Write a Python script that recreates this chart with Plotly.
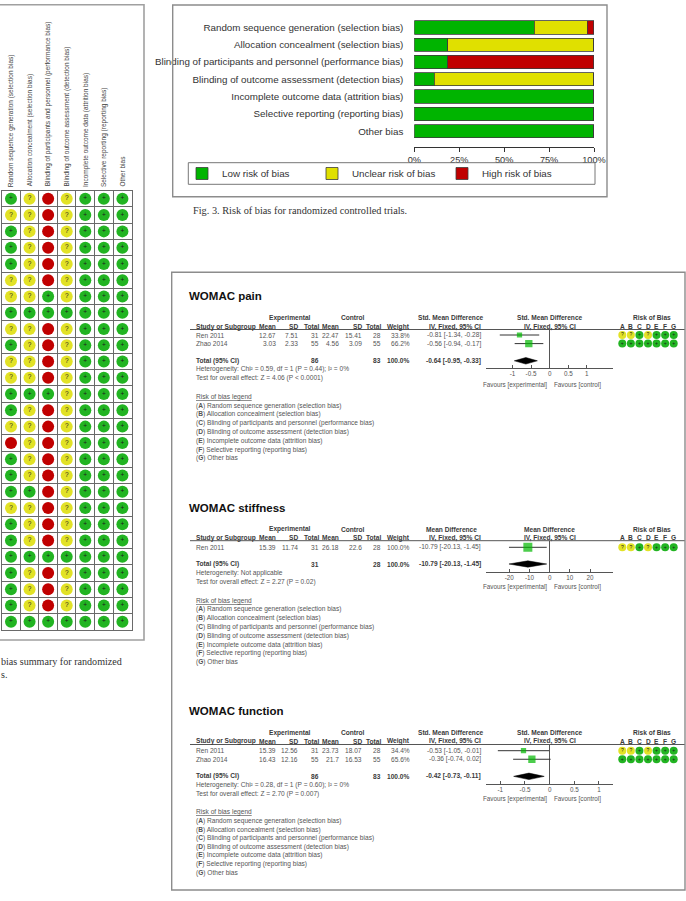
import plotly.graph_objects as go

W, H = 686, 901
SANS = "Liberation Sans, Arial, sans-serif"
SERIF = "Liberation Serif, DejaVu Serif, serif"

# ---------------- data ----------------
domains = [
    "Random sequence generation (selection bias)",
    "Allocation concealment (selection bias)",
    "Blinding of participants and personnel (performance bias)",
    "Blinding of outcome assessment (detection bias)",
    "Incomplete outcome data (attrition bias)",
    "Selective reporting (reporting bias)",
    "Other bias",
]
rob_letters = ["A", "B", "C", "D", "E", "F", "G"]
risk_levels = ["L", "U", "H"]
risk_names = ["Low risk of bias", "Unclear risk of bias", "High risk of bias"]

# one string per trial (top to bottom), one letter per domain: L low, U unclear, H high
summary_judgements = [
    "LUHULLL", "UUHULLL", "LUHULLL", "LUHULLL", "LUHULLL", "UUHULLL", "UULULLL",
    "LLLLLLL", "UUHULLL", "LUHULLL", "UUHULLL", "UUHULLL", "LLLULLL", "LUHULLL",
    "UUHULLL", "HUHULLL", "LUHULLL", "LUHULLL", "LLHULLL", "UUHULLL", "LUHULLL",
    "LUHULLL", "LLLLLLL", "LUHULLL", "LUHULLL", "LUHULLL", "LLLLLLL",
]

# WOMAC pain
pain_study = ["Ren 2011", "Zhao 2014"]
pain_exp_mean = [12.67, 3.03]
pain_exp_sd = [7.51, 2.33]
pain_exp_n = [31, 55]
pain_ctl_mean = [22.47, 4.56]
pain_ctl_sd = [15.41, 3.09]
pain_ctl_n = [28, 55]
pain_weight = [33.8, 66.2]
pain_est = [-0.81, -0.56]
pain_lo = [-1.34, -0.94]
pain_hi = [-0.28, -0.17]
pain_total = [-0.64, -0.95, -0.33]
pain_rob = ["UULULLL", "LLLLLLL"]
pain_het = "Heterogeneity: Chi² = 0.59, df = 1 (P = 0.44); I² = 0%"
pain_test = "Test for overall effect: Z = 4.06 (P < 0.0001)"
pain_ticks = [-1, -0.5, 0, 0.5, 1]

# WOMAC stiffness
stiff_study = ["Ren 2011"]
stiff_exp_mean = [15.39]
stiff_exp_sd = [11.74]
stiff_exp_n = [31]
stiff_ctl_mean = [26.18]
stiff_ctl_sd = [22.6]
stiff_ctl_n = [28]
stiff_weight = [100.0]
stiff_est = [-10.79]
stiff_lo = [-20.13]
stiff_hi = [-1.45]
stiff_total = [-10.79, -20.13, -1.45]
stiff_rob = ["UULULLL"]
stiff_het = "Heterogeneity: Not applicable"
stiff_test = "Test for overall effect: Z = 2.27 (P = 0.02)"
stiff_ticks = [-20, -10, 0, 10, 20]

# WOMAC function
func_study = ["Ren 2011", "Zhao 2014"]
func_exp_mean = [15.39, 16.43]
func_exp_sd = [12.56, 12.16]
func_exp_n = [31, 55]
func_ctl_mean = [23.73, 21.7]
func_ctl_sd = [18.07, 16.53]
func_ctl_n = [28, 55]
func_weight = [34.4, 65.6]
func_est = [-0.53, -0.36]
func_lo = [-1.05, -0.74]
func_hi = [-0.01, 0.02]
func_total = [-0.42, -0.73, -0.11]
func_rob = ["UULULLL", "LLLLLLL"]
func_het = "Heterogeneity: Chi² = 0.28, df = 1 (P = 0.60); I² = 0%"
func_test = "Test for overall effect: Z = 2.70 (P = 0.007)"
func_ticks = [-1, -0.5, 0, 0.5, 1]


# ---------------- helpers ----------------
def px(x):
    return x / W


def py(y):
    return 1 - y / H


GRID_COL = {"L": "#22b422", "U": "#e2e226", "H": "#c10000"}
BAR_COL = {"L": "#00b400", "U": "#e0e000", "H": "#c00000"}
SYM = {"L": "+", "U": "?", "H": ""}
TXT = "#555555"
HDR = "#3a3a3a"
BODY = 6.6

fig = go.Figure()
ann = []
shapes = []
lay = {}


def note(text, x, y, xref="paper", yref="paper", xanchor="left", yanchor="middle",
         size=BODY, color=TXT, family=SANS, **kw):
    d = dict(text=text, x=x, y=y, xref=xref, yref=yref, xanchor=xanchor, yanchor=yanchor,
             showarrow=False, font=dict(size=size, color=color, family=family), borderpad=0)
    d.update(kw)
    ann.append(d)


# ---------------- risk of bias summary grid ----------------
for lvl in risk_levels:
    xs, ys, ts = [], [], []
    for r, row in enumerate(summary_judgements, start=1):
        for c, j in enumerate(row, start=1):
            if j == lvl:
                xs.append(c)
                ys.append(r)
                ts.append(SYM[lvl])
    fig.add_trace(go.Scatter(
        x=xs, y=ys, mode="markers+text", text=ts, textposition="middle center",
        textfont=dict(size=6.5, color="#1c1c1c", family=SANS),
        marker=dict(size=12, color=GRID_COL[lvl], line=dict(width=0)),
        xaxis="x", yaxis="y", showlegend=False, hoverinfo="skip"))

n_rows = len(summary_judgements)
n_dom = len(domains)
grid_axis = dict(showgrid=True, gridcolor="#6a6a6a", gridwidth=1, zeroline=False,
                 showticklabels=False, ticks="", showline=True, mirror=True,
                 linecolor="#6a6a6a", linewidth=1, fixedrange=True)
lay["xaxis"] = dict(grid_axis, domain=[px(1.7), px(131.7)], range=[0.5, n_dom + 0.5],
                    tickvals=[k + 0.5 for k in range(n_dom + 1)], anchor="y")
lay["yaxis"] = dict(grid_axis, domain=[py(630), py(190.7)], range=[n_rows + 0.5, 0.5],
                    tickvals=[k + 0.5 for k in range(n_rows + 1)], anchor="x")
for c, name in enumerate(domains, start=1):
    note(name, c, 1, xref="x", yref="y domain", xanchor="center", yanchor="bottom",
         size=6.5, color="#444444", textangle=-90, yshift=3)

shapes.append(dict(type="rect", xref="paper", yref="paper", x0=px(-4), x1=px(144),
                   y0=py(640), y1=py(4.7), line=dict(color="#a0a0a0", width=1.6)))
note("bias summary for randomized", 0, py(661.7), size=10.1, color="#333333", family=SERIF)
note("s.", 0, py(674), size=10.1, color="#333333", family=SERIF)

# ---------------- risk of bias graph (stacked bars) ----------------
for k, lvl in enumerate(risk_levels):
    pct = [100.0 * sum(1 for row in summary_judgements if row[d] == lvl) / n_rows
           for d in range(n_dom)]
    fig.add_trace(go.Bar(
        y=domains, x=pct, orientation="h", name=risk_names[k],
        marker=dict(color=BAR_COL[lvl], line=dict(color="#3c3c3c", width=0.8)),
        xaxis="x2", yaxis="y2", hoverinfo="skip"))

lay["xaxis2"] = dict(domain=[px(414.3), px(594)], range=[0, 100], anchor="y2",
                     tickvals=[0, 25, 50, 75, 100], ticktext=["0%", "25%", "50%", "75%", "100%"],
                     ticks="outside", ticklen=4, tickcolor="#333333", showline=True,
                     linecolor="#333333", linewidth=1, showgrid=False, zeroline=False,
                     tickfont=dict(size=9.2, color="#333333", family=SANS), fixedrange=True)
lay["yaxis2"] = dict(domain=[py(146.7), py(18)], type="category", categoryarray=domains,
                     categoryorder="array", range=[n_dom - 1 + 0.89, -0.54], anchor="x2",
                     ticks="outside", ticklen=8, tickcolor="rgba(0,0,0,0)", showline=False,
                     showgrid=False, zeroline=False,
                     tickfont=dict(size=9.8, color="#333333", family=SANS), fixedrange=True)

shapes.append(dict(type="rect", xref="paper", yref="paper", x0=px(172.7), x1=px(607),
                   y0=py(196.7), y1=py(5), line=dict(color="#8c8c8c", width=1.4)))
shapes.append(dict(type="rect", xref="paper", yref="paper", x0=px(188.3), x1=px(595),
                   y0=py(184.3), y1=py(162.7), line=dict(color="#777777", width=1)))
note("Fig. 3. Risk of bias for randomized controlled trials.", px(191.7), py(210),
     size=10.3, color="#333333", family=SERIF)

# ---------------- forest plots ----------------
panels = [
    dict(title="WOMAC pain", measure="Std. Mean Difference", study=pain_study,
         em=pain_exp_mean, es=pain_exp_sd, en=pain_exp_n, cm=pain_ctl_mean, cs=pain_ctl_sd,
         cn=pain_ctl_n, w=pain_weight, est=pain_est, lo=pain_lo, hi=pain_hi, tot=pain_total,
         rob=pain_rob, het=pain_het, test=pain_test, ticks=pain_ticks, xr=1.71,
         t=295.7, h1=317.7, h2=326.7, ul=329.5, r0=335.0, st=8.6, ax=367.7,
         hy=369.3, ty=378.0, fy=384.5, ly=396.7, la=405.5, ls=8.8),
    dict(title="WOMAC stiffness", measure="Mean Difference", study=stiff_study,
         em=stiff_exp_mean, es=stiff_exp_sd, en=stiff_exp_n, cm=stiff_ctl_mean, cs=stiff_ctl_sd,
         cn=stiff_ctl_n, w=stiff_weight, est=stiff_est, lo=stiff_lo, hi=stiff_hi, tot=stiff_total,
         rob=stiff_rob, het=stiff_het, test=stiff_test, ticks=stiff_ticks, xr=31.5,
         t=507.7, h1=529.0, h2=537.7, ul=540.7, r0=547.3, st=8.35, ax=571.7,
         hy=573.3, ty=582.3, fy=587.0, ly=601.0, la=609.3, ls=8.83),
    dict(title="WOMAC function", measure="Std. Mean Difference", study=func_study,
         em=func_exp_mean, es=func_exp_sd, en=func_exp_n, cm=func_ctl_mean, cs=func_ctl_sd,
         cn=func_ctl_n, w=func_weight, est=func_est, lo=func_lo, hi=func_hi, tot=func_total,
         rob=func_rob, het=func_het, test=func_test, ticks=func_ticks, xr=1.29,
         t=711.0, h1=732.7, h2=741.3, ul=744.5, r0=750.7, st=8.55, ax=783.7,
         hy=785.0, ty=793.7, fy=799.0, ly=812.3, la=821.0, ls=8.62),
]

COLX = [277.3, 299.3, 320.0, 340.0, 362.7, 382.3, 411.0, 482.0]
STUDY_X = 195.0
ROB_DOM = [618.0, 678.0]


def fmt(v):
    return f"{v:g}"


for i, p in enumerate(panels):
    xa, ya, xr = f"x{3 + 2 * i}", f"y{3 + 2 * i}", f"x{4 + 2 * i}"
    n = len(p["study"])
    rows = list(range(n))
    trow = n + 1

    # study squares with CI whiskers
    fig.add_trace(go.Scatter(
        x=p["est"], y=rows, mode="markers",
        marker=dict(symbol="square", size=[9 * (w / 100) ** 0.5 for w in p["w"]],
                    color="#00b800", line=dict(width=0)),
        error_x=dict(type="data", symmetric=False,
                     array=[h - e for h, e in zip(p["hi"], p["est"])],
                     arrayminus=[e - l for e, l in zip(p["est"], p["lo"])],
                     color="#333333", thickness=1, width=0),
        xaxis=xa, yaxis=ya, showlegend=False, hoverinfo="skip"))
    # pooled diamond
    te, tl, th = p["tot"]
    fig.add_trace(go.Scatter(
        x=[tl, te, th, te, tl], y=[trow, trow - 0.38, trow, trow + 0.38, trow],
        mode="lines", fill="toself", fillcolor="#000000", line=dict(color="#000000", width=0.5),
        xaxis=xa, yaxis=ya, showlegend=False, hoverinfo="skip"))
    # risk of bias circles
    for lvl in risk_levels:
        xs, ys, ts = [], [], []
        for r, row in enumerate(p["rob"]):
            for c, j in enumerate(row, start=1):
                if j == lvl:
                    xs.append(c)
                    ys.append(r)
                    ts.append(SYM[lvl])
        if xs:
            fig.add_trace(go.Scatter(
                x=xs, y=ys, mode="markers+text", text=ts, textposition="middle center",
                textfont=dict(size=5, color="#1c1c1c", family=SANS),
                marker=dict(size=8, color=GRID_COL[lvl], line=dict(width=0)),
                xaxis=xr, yaxis=ya, showlegend=False, hoverinfo="skip"))

    top = (p["ul"] - p["r0"]) / p["st"]
    bot = (p["ax"] - p["r0"]) / p["st"]
    lay[f"xaxis{3 + 2 * i}"] = dict(
        domain=[px(486), px(613.3)], range=[-p["xr"], p["xr"]], anchor=ya,
        tickvals=p["ticks"], ticktext=[fmt(t) for t in p["ticks"]],
        ticks="inside", ticklen=3, tickcolor="#555555", showline=True, linecolor="#555555",
        linewidth=1, showgrid=False, zeroline=True, zerolinecolor="#555555", zerolinewidth=1,
        tickfont=dict(size=6.3, color=TXT, family=SANS), fixedrange=True)
    lay[f"yaxis{3 + 2 * i}"] = dict(
        domain=[py(p["ax"]), py(p["ul"])], range=[bot, top], anchor=xa, visible=False,
        showgrid=False, zeroline=False, fixedrange=True)
    lay[f"xaxis{4 + 2 * i}"] = dict(
        domain=[px(ROB_DOM[0]), px(ROB_DOM[1])], range=[0.5, n_dom + 0.5], anchor=ya,
        visible=False, showgrid=False, zeroline=False, fixedrange=True)

    # title
    note(f"<b>{p['title']}</b>", px(188.3), py(p["t"]), size=11.5, color="#111111")
    # header row 1
    note("<b>Experimental</b>", px(290), py(p["h1"]), xanchor="center", color=HDR)
    note("<b>Control</b>", px(353), py(p["h1"]), xanchor="center", color=HDR)
    note(f"<b>{p['measure']}</b>", px(451), py(p["h1"]), xanchor="center", color=HDR)
    note(f"<b>{p['measure']}</b>", px(549.5), py(p["h1"]), xanchor="center", color=HDR)
    note("<b>Risk of Bias</b>", px(652), py(p["h1"]), xanchor="center", color=HDR)
    # header row 2
    note("<b>Study or Subgroup</b>", px(STUDY_X), py(p["h2"]), color=HDR)
    for txt, xx in zip(["Mean", "SD", "Total", "Mean", "SD", "Total", "Weight",
                        "IV, Fixed, 95% CI"], COLX):
        note(f"<b>{txt}</b>", px(xx), py(p["h2"]), xanchor="right", color=HDR)
    note("<b>IV, Fixed, 95% CI</b>", px(549.5), py(p["h2"]), xanchor="center", color=HDR)
    for c, letter in enumerate(rob_letters, start=1):
        note(f"<b>{letter}</b>", c, py(p["h2"]), xref=xr, xanchor="center", color=HDR)
    shapes.append(dict(type="line", xref="paper", yref="paper", x0=px(190), x1=px(685),
                       y0=py(p["ul"]), y1=py(p["ul"]), line=dict(color="#555555", width=1)))

    # study rows
    for r in rows:
        ci = f"{p['est'][r]:.2f} [{p['lo'][r]:.2f}, {p['hi'][r]:.2f}]"
        cells = [fmt(p["em"][r]), fmt(p["es"][r]), str(p["en"][r]), fmt(p["cm"][r]),
                 fmt(p["cs"][r]), str(p["cn"][r]), f"{p['w'][r]:.1f}%", ci]
        note(p["study"][r], px(STUDY_X), r, yref=ya)
        for txt, xx in zip(cells, COLX):
            note(txt, px(xx), r, yref=ya, xanchor="right")
    # total row
    note("<b>Total (95% CI)</b>", px(STUDY_X), trow, yref=ya, color=HDR)
    note(f"<b>{sum(p['en'])}</b>", px(COLX[2]), trow, yref=ya, xanchor="right", color=HDR)
    note(f"<b>{sum(p['cn'])}</b>", px(COLX[5]), trow, yref=ya, xanchor="right", color=HDR)
    note(f"<b>{sum(p['w']):.1f}%</b>", px(COLX[6]), trow, yref=ya, xanchor="right", color=HDR)
    note(f"<b>{te:.2f} [{tl:.2f}, {th:.2f}]</b>", px(COLX[7]), trow, yref=ya,
         xanchor="right", color=HDR)
    note(p["het"], px(STUDY_X), py(p["hy"]))
    note(p["test"], px(STUDY_X), py(p["ty"]))
    note("Favours [experimental]", px(547.5), py(p["fy"]), xanchor="right", size=6.3)
    note("Favours [control]", px(553), py(p["fy"]), size=6.3)
    # risk of bias legend
    note("<u>Risk of bias legend</u>", px(STUDY_X), py(p["ly"]))
    for k, (letter, d) in enumerate(zip(rob_letters, domains)):
        note(f"(<b>{letter}</b>) {d}", px(STUDY_X), py(p["la"] + k * p["ls"]))

shapes.append(dict(type="rect", xref="paper", yref="paper", x0=px(171.7), x1=px(685),
                   y0=py(890), y1=py(272.3), line=dict(color="#8c8c8c", width=1.4)))

fig.update_layout(
    width=W, height=H, autosize=False, template="none",
    margin=dict(l=0, r=0, t=0, b=0, pad=0),
    paper_bgcolor="white", plot_bgcolor="rgba(0,0,0,0)",
    font=dict(family=SANS, size=7, color="#333333"),
    barmode="stack", bargap=0.23,
    showlegend=True,
    legend=dict(orientation="h", x=px(182), y=py(159), xanchor="left", yanchor="top",
                bgcolor="rgba(0,0,0,0)", borderwidth=0, traceorder="normal",
                font=dict(size=9.8, color="#333333", family=SANS),
                entrywidth=85, entrywidthmode="pixels", itemwidth=30,
                itemclick=False, itemdoubleclick=False),
    annotations=ann, shapes=shapes, hovermode=False,
    **lay,
)

fig.write_html("out.html")
